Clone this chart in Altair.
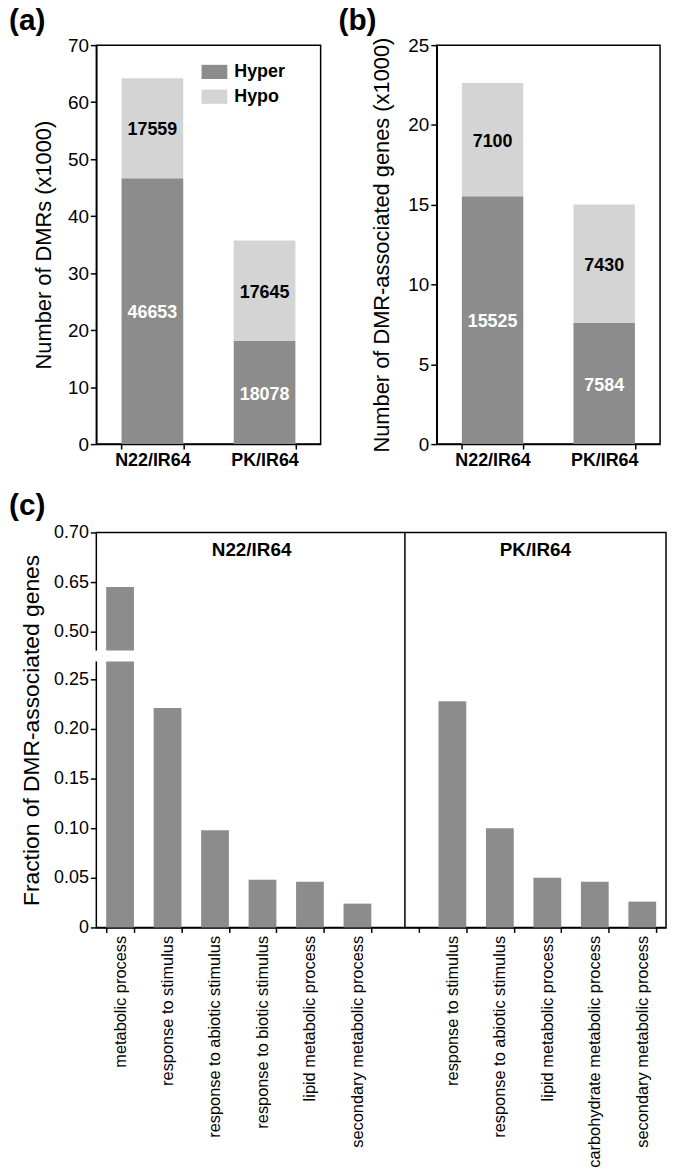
import altair as alt
import pandas as pd

# ---------------- data ----------------
groups = ["N22/IR64", "PK/IR64"]
dmr_hyper = [46653, 18078]
dmr_hypo = [17559, 17645]
gene_hyper = [15525, 7584]
gene_hypo = [7100, 7430]

n22_terms = ["metabolic process", "response to stimulus", "response to abiotic stimulus",
             "response to biotic stimulus", "lipid metabolic process", "secondary metabolic process"]
n22_frac = [0.635, 0.221, 0.098, 0.048, 0.046, 0.024]
pk_terms = ["response to stimulus", "response to abiotic stimulus", "lipid metabolic process",
            "carbohydrate metabolic process", "secondary metabolic process"]
pk_frac = [0.228, 0.100, 0.050, 0.046, 0.026]

# broken axis of panel (c)
BREAK_LO = 0.268
BREAK_HI = 0.443
c_ticks = [0, 0.05, 0.10, 0.15, 0.20, 0.25, 0.50, 0.65, 0.70]

HYPER = "#8c8c8c"
HYPO = "#d4d4d4"
FONT = "Liberation Sans"


def panel_letter(letter, dx, dy):
    return alt.Chart(pd.DataFrame({"t": [letter]})).mark_text(
        fontSize=30, fontWeight="bold", align="left", baseline="alphabetic", dx=dx, dy=dy
    ).encode(x=alt.value(0), y=alt.value(0), text="t:N")


def stacked_df(hyper, hypo):
    rows = []
    for g, h, o in zip(groups, hyper, hypo):
        h1, o1 = h / 1000, o / 1000
        rows.append(dict(group=g, type="Hyper", base=0, top=h1, mid=h1 / 2, label=str(h)))
        rows.append(dict(group=g, type="Hypo", base=h1, top=h1 + o1, mid=h1 + o1 / 2, label=str(o)))
    return pd.DataFrame(rows)


def stacked_chart(df, ymax, step, ytitle, letter, letter_dx, legend_x, width, height,
                  title_pad, title_size):
    xenc = alt.X("group:N", sort=groups, title=None,
                 scale=alt.Scale(paddingInner=0.45, paddingOuter=0.225),
                 axis=alt.Axis(labelAngle=0, labelFontSize=18, labelFontWeight="bold",
                               tickBand="extent", tickSize=5, labelPadding=3))
    yenc = alt.Y("top:Q", scale=alt.Scale(domain=[0, ymax], nice=False), title=ytitle,
                 axis=alt.Axis(values=list(range(0, ymax + 1, step)), tickSize=6,
                               labelFontSize=19, labelPadding=2, titleFontSize=title_size,
                               titlePadding=title_pad))
    bars = alt.Chart(df).mark_bar().encode(
        x=xenc, y=yenc, y2="base:Q",
        color=alt.Color("type:N",
                        scale=alt.Scale(domain=["Hyper", "Hypo"], range=[HYPER, HYPO]),
                        legend=alt.Legend(title=None, orient="none", legendX=legend_x, legendY=14,
                                          symbolType="M-1,-0.55L1,-0.55L1,0.55L-1,0.55Z",
                                          symbolSize=676, symbolStrokeWidth=0,
                                          labelFontSize=18, labelFontWeight="bold",
                                          labelOffset=7, rowPadding=3, padding=0)))
    text = alt.Chart(df).mark_text(fontSize=18, fontWeight="bold", baseline="middle", dy=2).encode(
        x=alt.X("group:N", sort=groups),
        y="mid:Q",
        text="label:N",
        color=alt.condition("datum.type == 'Hyper'", alt.value("white"), alt.value("black")))
    return alt.layer(bars, text, panel_letter(letter, letter_dx, -15)).properties(
        width=width, height=height)


A = stacked_chart(stacked_df(dmr_hyper, dmr_hypo), 70, 10, "Number of DMRs (x1000)",
                  "(a)", -88, 106, 226, 402, 12, 22)
B = stacked_chart(stacked_df(gene_hyper, gene_hypo), 25, 5, "Number of DMR-associated genes (x1000)",
                  "(b)", -99, 114, 225, 402, 14, 22)

# ---------------- panel (c) ----------------
gap_key = "gap|"
keys = ["N22|" + t for t in n22_terms] + [gap_key] + ["PK|" + t for t in pk_terms]
vals = n22_frac + [None] + pk_frac
rows = []
for k, v in zip(keys, vals):
    if v is None:
        continue
    if v > BREAK_HI:
        rows.append(dict(key=k, lo=0, hi=BREAK_LO))
        rows.append(dict(key=k, lo=BREAK_HI, hi=v))
    else:
        rows.append(dict(key=k, lo=0, hi=v))
cdf = pd.DataFrame(rows)

cx = alt.X("key:N", sort=keys, title=None,
           scale=alt.Scale(paddingInner=0.415, paddingOuter=0.2075),
           axis=alt.Axis(labelAngle=-90, labelFontSize=16.5, labelLimit=400, labelPadding=3,
                         tickBand="extent", tickSize=5,
                         labelExpr="split(datum.label, '|')[1]"))
cy_scale = alt.Scale(domain=[0, BREAK_LO, BREAK_HI, 0.50, 0.65, 0.70],
                     range=[398, 130, 119, 100, 50, 0], nice=False, zero=False)
cbars = alt.Chart(cdf).mark_bar(color=HYPER).encode(
    x=cx,
    y=alt.Y("hi:Q", scale=cy_scale, title="Fraction of DMR-associated genes",
            axis=alt.Axis(values=c_ticks, domain=False, tickSize=6, labelFontSize=18,
                          labelPadding=2, titleFontSize=23, titlePadding=10,
                          labelExpr="datum.value == 0 ? '0' : format(datum.value, '.2f')")),
    y2="lo:Q")
divider = alt.Chart(pd.DataFrame({"key": [gap_key]})).mark_rule(
    color="black", strokeWidth=1.5).encode(x=alt.X("key:N", sort=keys))
mask = alt.Chart(pd.DataFrame({"a": [BREAK_LO], "b": [BREAK_HI]})).mark_rule(
    color="white", strokeWidth=5).encode(x=alt.value(0), y="a:Q", y2="b:Q")
hdr1 = alt.Chart(pd.DataFrame({"key": ["N22|" + n22_terms[3]], "t": ["N22/IR64"]})).mark_text(
    fontSize=19, fontWeight="bold", baseline="top", dx=-11, dy=9).encode(
    x=alt.X("key:N", sort=keys), y=alt.datum(0.70), text="t:N")
hdr2 = alt.Chart(pd.DataFrame({"key": ["PK|" + pk_terms[2]], "t": ["PK/IR64"]})).mark_text(
    fontSize=19, fontWeight="bold", baseline="top", dx=-12, dy=9).encode(
    x=alt.X("key:N", sort=keys), y=alt.datum(0.70), text="t:N")

C = alt.layer(cbars, divider, mask, hdr1, hdr2, panel_letter("(c)", -88, -18)).properties(
    width=574, height=398)

top = alt.hconcat(A, B, spacing=117, bounds="flush")
chart = alt.vconcat(top, C, spacing=19).properties(
    padding={"top": -7, "left": 0, "right": 0, "bottom": 0}
).configure(
    font=FONT
).configure_view(
    stroke="black", strokeWidth=1.5
).configure_axis(
    grid=False, domainColor="black", tickColor="black", labelColor="black",
    titleColor="black", domainWidth=1.5, tickWidth=1.5, titleFontWeight="normal",
    labelFont=FONT, titleFont=FONT
).configure_legend(labelColor="black", labelFont=FONT)

chart.save("out.html", embed_options={"renderer": "svg", "actions": False})
